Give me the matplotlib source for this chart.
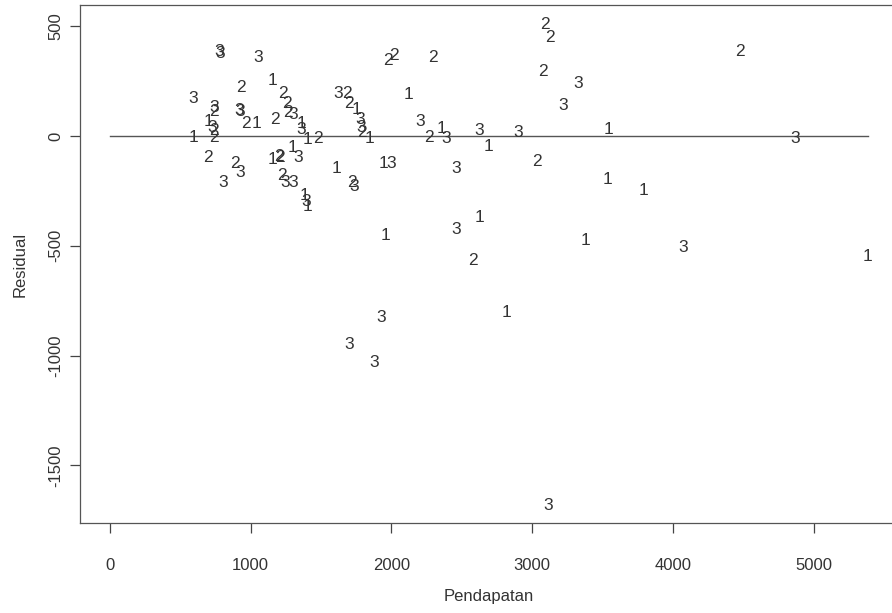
import matplotlib
matplotlib.use("Agg")
import matplotlib.pyplot as plt

# pendapatan (x), residual (y) and group label drawn at each point
pendapatan = [590, 774, 781, 1052, 931, 1158, 1229, 1258, 1265, 1300,
              917, 924, 966, 1044, 1172, 1357, 1364, 597, 739, 739,
              703, 725, 739, 739, 696, 888, 924, 803, 1158, 1201,
              1208, 1300, 1336, 1407, 1478, 1222, 1243, 1300, 1385, 1393,
              1407, 1975, 2018, 2295, 1620, 1684, 1698, 1755, 1776, 1783,
              1790, 1847, 2124, 2203, 2266, 2359, 2387, 1613, 1719, 1734,
              1940, 1996, 2458, 3091, 3126, 4476, 3076, 3325, 3219, 2622,
              2686, 2899, 3545, 4867, 3034, 3538, 3794, 2629, 2458, 3382,
              4071, 2579, 5386, 1961, 1925, 2821, 1698, 1876, 3112]
residual = [173, 383, 378, 360, 223, 255, 196, 150, 105, 100,
            118, 110, 55, 55, 77, 32, 55, -5, 128, 114,
            68, 41, 23, -5, -100, -123, -164, -210, -109, -91,
            -100, -50, -96, -18, -9, -178, -210, -210, -269, -296,
            -323, 342, 369, 360, 196, 196, 146, 123, 77, 41,
            18, -9, 191, 68, -5, 36, -9, -146, -210, -232,
            -123, -123, -150, 506, 451, 383, 292, 241, 137, 23,
            -46, 18, 32, -9, -118, -200, -246, -369, -428, -474,
            -510, -565, -551, -451, -825, -806, -952, -1030, -1681]
kelompok = ["3", "3", "3", "3", "2", "1", "2", "2", "2", "3",
            "3", "3", "2", "1", "2", "3", "1", "1", "3", "2",
            "1", "3", "2", "2", "2", "2", "3", "3", "1", "2",
            "2", "1", "3", "1", "2", "2", "3", "3", "1", "3",
            "1", "2", "2", "2", "3", "2", "2", "1", "3", "3",
            "2", "1", "1", "3", "2", "1", "3", "1", "2", "3",
            "1", "3", "3", "2", "2", "2", "2", "3", "3", "3",
            "1", "3", "1", "3", "2", "1", "1", "1", "3", "1",
            "3", "2", "1", "1", "3", "1", "3", "3", "3"]

xticks = [0, 1000, 2000, 3000, 4000, 5000]
yticks = [-1500, -1000, -500, 0, 500]

plt.rcParams['font.family'] = ['Liberation Sans', 'DejaVu Sans']
ink = '#333333'

fig = plt.figure(figsize=(8.92, 6.13), dpi=100)
ax = fig.add_axes([80 / 892, 90 / 613, 835 / 892, 518 / 613])

for x, y, lab in zip(pendapatan, residual, kelompok):
    ax.text(x, y, lab, ha='center', va='center', fontsize=12.5, color=ink)

# zero reference line
ax.plot([0, max(pendapatan)], [0, 0], color='#555555', linewidth=1.0)

ax.set_xlim(-213, 5720)
ax.set_ylim(-1763, 597)

ax.set_xticks(xticks)
ax.set_yticks(yticks)
ax.set_xticklabels([str(t) for t in xticks])
ax.set_yticklabels([str(t) for t in yticks], rotation=90, va='center')
ax.tick_params(axis='both', direction='out', length=7, width=0.9,
               colors='#444444', labelcolor=ink, labelsize=12)
ax.tick_params(axis='x', pad=18)
ax.tick_params(axis='y', pad=5)

for side in ['left', 'bottom', 'top']:
    ax.spines[side].set_color('#555555')
    ax.spines[side].set_linewidth(0.9)
ax.spines['right'].set_visible(False)

ax.set_xlabel('Pendapatan', fontsize=12, color=ink)
ax.set_ylabel('Residual', fontsize=12, color=ink)
ax.xaxis.set_label_coords(409 / 835, -(597 - 523) / 518)
ax.xaxis.label.set_va('center')
ax.yaxis.set_label_coords(-(80 - 20) / 835, 0.5)
ax.yaxis.label.set_va('center')

fig.savefig('out.png', dpi=100)
